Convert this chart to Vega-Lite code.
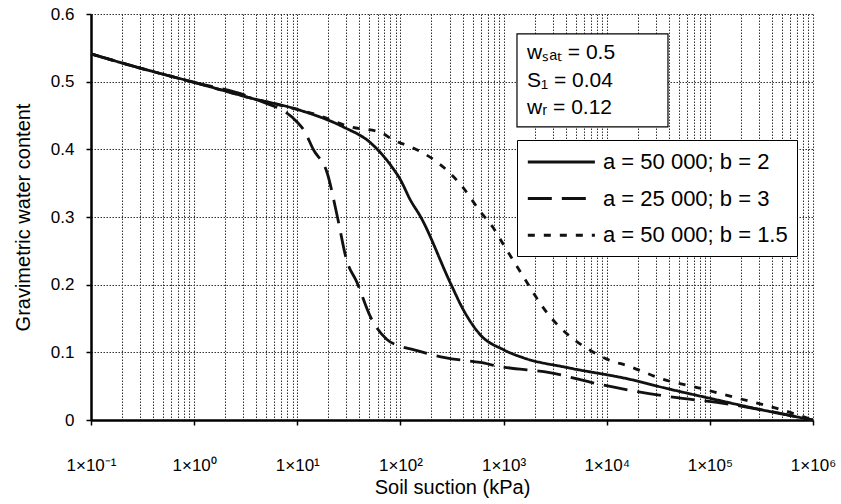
{
  "$schema": "https://vega.github.io/schema/vega-lite/v6.json",
  "width": 722,
  "height": 406,
  "autosize": {"type": "none"},
  "padding": {"left": 91, "top": 14, "right": 28, "bottom": 84},
  "config": {
    "font": "Liberation Sans",
    "view": {"stroke": null},
    "axis": {"labelColor": "#000", "titleColor": "#000", "titleFontWeight": "normal"}
  },
  "datasets": {
    "curves": [
      {"s": 0.1, "w": 0.541, "c": "a = 50 000; b = 2"},
      {"s": 0.3, "w": 0.52, "c": "a = 50 000; b = 2"},
      {"s": 1, "w": 0.499, "c": "a = 50 000; b = 2"},
      {"s": 3.5, "w": 0.476, "c": "a = 50 000; b = 2"},
      {"s": 10, "w": 0.459, "c": "a = 50 000; b = 2"},
      {"s": 28, "w": 0.433, "c": "a = 50 000; b = 2"},
      {"s": 51, "w": 0.41, "c": "a = 50 000; b = 2"},
      {"s": 80, "w": 0.377, "c": "a = 50 000; b = 2"},
      {"s": 100, "w": 0.355, "c": "a = 50 000; b = 2"},
      {"s": 125, "w": 0.325, "c": "a = 50 000; b = 2"},
      {"s": 156, "w": 0.301, "c": "a = 50 000; b = 2"},
      {"s": 305, "w": 0.2025, "c": "a = 50 000; b = 2"},
      {"s": 407, "w": 0.163, "c": "a = 50 000; b = 2"},
      {"s": 594, "w": 0.126, "c": "a = 50 000; b = 2"},
      {"s": 994, "w": 0.104, "c": "a = 50 000; b = 2"},
      {"s": 1550, "w": 0.092, "c": "a = 50 000; b = 2"},
      {"s": 4140, "w": 0.0775, "c": "a = 50 000; b = 2"},
      {"s": 16900, "w": 0.06, "c": "a = 50 000; b = 2"},
      {"s": 38500, "w": 0.0465, "c": "a = 50 000; b = 2"},
      {"s": 94000, "w": 0.033, "c": "a = 50 000; b = 2"},
      {"s": 307000, "w": 0.0155, "c": "a = 50 000; b = 2"},
      {"s": 1000000, "w": 0, "c": "a = 50 000; b = 2"},

      {"s": 0.1, "w": 0.541, "c": "a = 25 000; b = 3"},
      {"s": 0.3, "w": 0.52, "c": "a = 25 000; b = 3"},
      {"s": 1, "w": 0.499, "c": "a = 25 000; b = 3"},
      {"s": 3.8, "w": 0.475, "c": "a = 25 000; b = 3"},
      {"s": 10, "w": 0.44, "c": "a = 25 000; b = 3"},
      {"s": 11.5, "w": 0.429, "c": "a = 25 000; b = 3"},
      {"s": 14.4, "w": 0.399, "c": "a = 25 000; b = 3"},
      {"s": 19.5, "w": 0.365, "c": "a = 25 000; b = 3"},
      {"s": 24.5, "w": 0.3, "c": "a = 25 000; b = 3"},
      {"s": 30, "w": 0.237, "c": "a = 25 000; b = 3"},
      {"s": 38, "w": 0.203, "c": "a = 25 000; b = 3"},
      {"s": 51, "w": 0.153, "c": "a = 25 000; b = 3"},
      {"s": 74, "w": 0.119, "c": "a = 25 000; b = 3"},
      {"s": 100, "w": 0.109, "c": "a = 25 000; b = 3"},
      {"s": 133, "w": 0.104, "c": "a = 25 000; b = 3"},
      {"s": 270, "w": 0.092, "c": "a = 25 000; b = 3"},
      {"s": 594, "w": 0.085, "c": "a = 25 000; b = 3"},
      {"s": 929, "w": 0.079, "c": "a = 25 000; b = 3"},
      {"s": 2800, "w": 0.07, "c": "a = 25 000; b = 3"},
      {"s": 8650, "w": 0.0525, "c": "a = 25 000; b = 3"},
      {"s": 48000, "w": 0.033, "c": "a = 25 000; b = 3"},
      {"s": 117000, "w": 0.026, "c": "a = 25 000; b = 3"},
      {"s": 307000, "w": 0.0155, "c": "a = 25 000; b = 3"},
      {"s": 1000000, "w": 0, "c": "a = 25 000; b = 3"},

      {"s": 0.1, "w": 0.541, "c": "a = 50 000; b = 1.5"},
      {"s": 0.3, "w": 0.52, "c": "a = 50 000; b = 1.5"},
      {"s": 1, "w": 0.499, "c": "a = 50 000; b = 1.5"},
      {"s": 3.5, "w": 0.476, "c": "a = 50 000; b = 1.5"},
      {"s": 10, "w": 0.459, "c": "a = 50 000; b = 1.5"},
      {"s": 15.5, "w": 0.451, "c": "a = 50 000; b = 1.5"},
      {"s": 33, "w": 0.433, "c": "a = 50 000; b = 1.5"},
      {"s": 64, "w": 0.425, "c": "a = 50 000; b = 1.5"},
      {"s": 85, "w": 0.414, "c": "a = 50 000; b = 1.5"},
      {"s": 133, "w": 0.402, "c": "a = 50 000; b = 1.5"},
      {"s": 209, "w": 0.385, "c": "a = 50 000; b = 1.5"},
      {"s": 302, "w": 0.365, "c": "a = 50 000; b = 1.5"},
      {"s": 407, "w": 0.343, "c": "a = 50 000; b = 1.5"},
      {"s": 594, "w": 0.308, "c": "a = 50 000; b = 1.5"},
      {"s": 794, "w": 0.284, "c": "a = 50 000; b = 1.5"},
      {"s": 1037, "w": 0.255, "c": "a = 50 000; b = 1.5"},
      {"s": 1350, "w": 0.227, "c": "a = 50 000; b = 1.5"},
      {"s": 2820, "w": 0.153, "c": "a = 50 000; b = 1.5"},
      {"s": 4800, "w": 0.119, "c": "a = 50 000; b = 1.5"},
      {"s": 7100, "w": 0.102, "c": "a = 50 000; b = 1.5"},
      {"s": 10000, "w": 0.09, "c": "a = 50 000; b = 1.5"},
      {"s": 16000, "w": 0.08, "c": "a = 50 000; b = 1.5"},
      {"s": 35500, "w": 0.06, "c": "a = 50 000; b = 1.5"},
      {"s": 80000, "w": 0.047, "c": "a = 50 000; b = 1.5"},
      {"s": 178000, "w": 0.033, "c": "a = 50 000; b = 1.5"},
      {"s": 500000, "w": 0.015, "c": "a = 50 000; b = 1.5"},
      {"s": 1000000, "w": 0, "c": "a = 50 000; b = 1.5"}
    ],
    "box": [
      {"s": 1349, "s2": 39260, "w": 0.5705, "w2": 0.4332}
    ],
    "params": [
      {"s": 1687, "w": 0.5424, "t": "wₛₐₜ = 0.5"},
      {"s": 1687, "w": 0.501, "t": "S₁ = 0.04"},
      {"s": 1687, "w": 0.4605, "t": "wᵣ = 0.12"}
    ]
  },
  "layer": [
    {
      "data": {"name": "curves"},
      "mark": {"type": "line", "color": "#111", "strokeWidth": 2.8, "interpolate": "monotone"},
      "encoding": {
        "x": {
          "field": "s", "type": "quantitative",
          "scale": {"type": "log", "domain": [0.1, 1000000], "nice": false},
          "axis": {
            "title": "Soil suction (kPa)",
            "titleFontSize": 20,
            "titlePadding": 4,
            "values": [0.1,0.2,0.3,0.4,0.5,0.6,0.7,0.8,0.9,1,2,3,4,5,6,7,8,9,10,20,30,40,50,60,70,80,90,100,200,300,400,500,600,700,800,900,1000,2000,3000,4000,5000,6000,7000,8000,9000,10000,20000,30000,40000,50000,60000,70000,80000,90000,100000,200000,300000,400000,500000,600000,700000,800000,900000,1000000],
            "labelExpr": "abs(log(datum.value)/LN10 - round(log(datum.value)/LN10)) < 0.001 ? '1×10' + ['⁻¹','⁰','¹','²','³','⁴','⁵','⁶'][round(log(datum.value)/LN10)+1] : ''",
            "labelOverlap": false,
            "labelFlush": false,
            "labelFontSize": 17,
            "labelPadding": 32,
            "tickSize": 5,
            "tickColor": "#000",
            "tickWidth": 1.5,
            "tickOpacity": {"condition": {"test": "abs(log(datum.value)/LN10 - round(log(datum.value)/LN10)) < 0.001", "value": 1}, "value": 0},
            "domainColor": "#000",
            "domainWidth": 2.5,
            "grid": true,
            "gridColor": "#333",
            "gridDash": [1.5, 1.5],
            "gridWidth": 1
          }
        },
        "y": {
          "field": "w", "type": "quantitative",
          "scale": {"domain": [0, 0.6], "nice": false},
          "axis": {
            "title": "Gravimetric water content",
            "titleFontSize": 20,
            "titlePadding": 17,
            "values": [0, 0.1, 0.2, 0.3, 0.4, 0.5, 0.6],
            "labelExpr": "datum.value == 0 ? '0' : format(datum.value, '.1f')",
            "labelFontSize": 17,
            "labelPadding": 12,
            "tickSize": 5,
            "tickColor": "#000",
            "tickWidth": 1.5,
            "domainColor": "#000",
            "domainWidth": 2.5,
            "grid": true,
            "gridColor": "#333",
            "gridDash": [1.5, 1.5],
            "gridWidth": 1
          }
        },
        "strokeDash": {
          "field": "c", "type": "nominal",
          "scale": {
            "domain": ["a = 50 000; b = 2", "a = 25 000; b = 3", "a = 50 000; b = 1.5"],
            "range": [[1, 0], [24, 10], [7, 9]]
          },
          "legend": {
            "title": null,
            "orient": "none",
            "legendX": 426,
            "legendY": 126,
            "fillColor": "#fff",
            "strokeColor": "#000",
            "padding": 9,
            "symbolType": "M-1,0H5",
            "symbolSize": 500,
            "symbolStrokeWidth": 3,
            "symbolStrokeColor": "#111",
            "labelFontSize": 22,
            "labelColor": "#000",
            "labelOffset": 51,
            "labelLimit": 400,
            "rowPadding": 12.6
          }
        }
      }
    },
    {
      "data": {"name": "box"},
      "mark": {"type": "rect", "fill": "#fff", "stroke": "#000", "strokeWidth": 1.2},
      "encoding": {
        "x": {"field": "s", "type": "quantitative"},
        "x2": {"field": "s2"},
        "y": {"field": "w", "type": "quantitative"},
        "y2": {"field": "w2"}
      }
    },
    {
      "data": {"name": "params"},
      "mark": {"type": "text", "align": "left", "baseline": "middle", "fontSize": 21, "color": "#000", "font": "Liberation Sans"},
      "encoding": {
        "x": {"field": "s", "type": "quantitative"},
        "y": {"field": "w", "type": "quantitative"},
        "text": {"field": "t"}
      }
    }
  ]
}
